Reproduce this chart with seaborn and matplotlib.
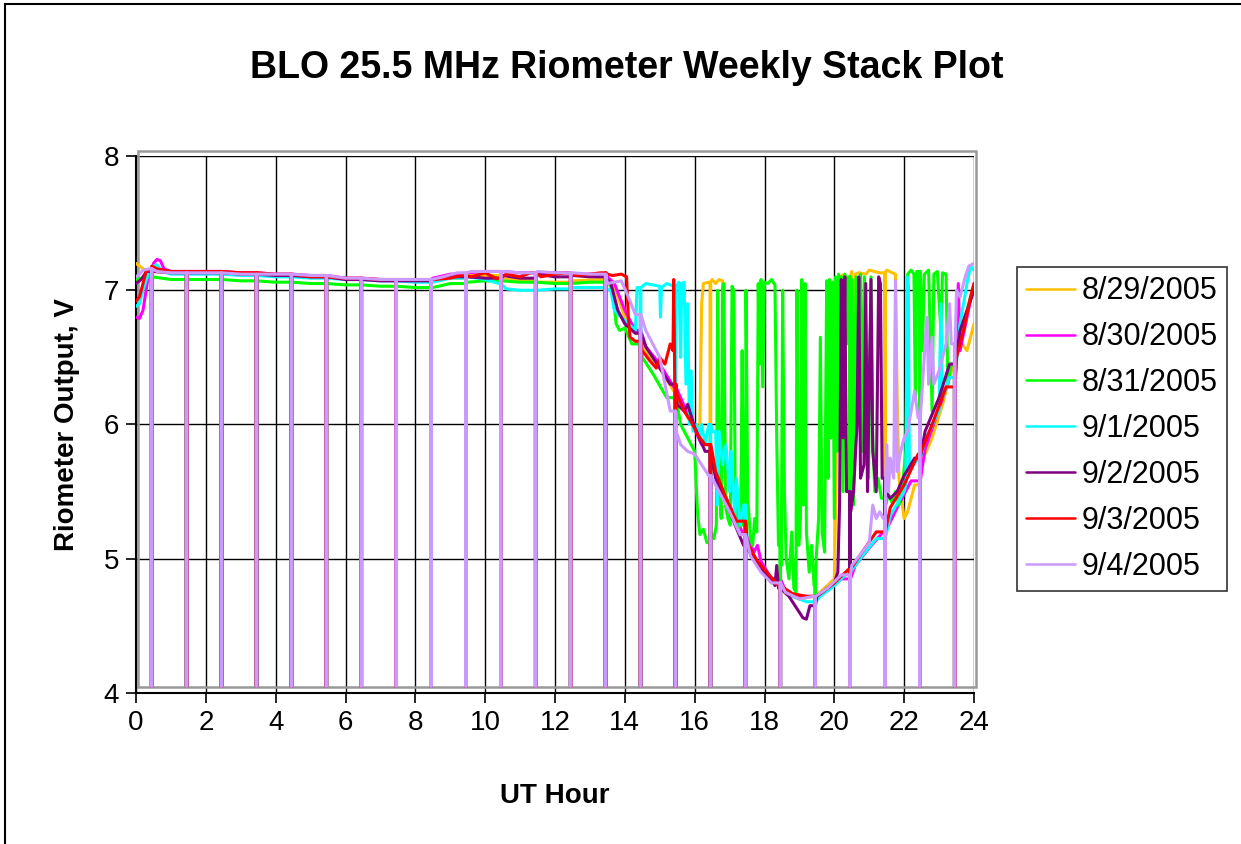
import numpy as np
import pandas as pd
import matplotlib.pyplot as plt
import matplotlib.patches as mpatches
import seaborn as sns

# ---- data (UT hour, volts) ----
dates = ["8/29/2005", "8/30/2005", "8/31/2005", "9/1/2005", "9/2/2005", "9/3/2005", "9/4/2005"]
colors = ["#FFC000", "#FF00FF", "#00FF00", "#00FFFF", "#800080", "#FF0000", "#CC99FF"]

# hourly calibration dropouts, common to every day
dropout_hours = [0.44, 1.44, 2.44, 3.44, 4.44, 5.44, 6.44, 7.44, 8.44, 9.44, 10.44, 11.44,
                 12.44, 13.44, 14.44, 15.44, 16.44, 17.44, 18.44, 19.44, 20.44, 21.44, 22.44, 23.44]
dropout_level = 4.05

t_0829 = [0.0, 0.1, 0.25, 0.5, 1.0, 2.0, 4.0, 6.0, 8.0, 8.8, 9.5, 10.5, 11.5, 12.5, 13.3, 13.6,
          13.8, 14.0, 14.3, 14.6, 15.0, 15.4, 15.8, 16.1, 16.15, 16.2, 16.25, 16.4, 16.5, 16.6, 16.7, 16.8,
          16.85, 16.9, 17.2, 17.5, 17.8, 18.2, 18.6, 19.0, 19.4, 19.8, 20.0, 20.05, 20.1, 20.15, 20.3, 20.4,
          20.45, 20.5, 20.55, 20.6, 20.7, 20.9, 21.0, 21.3, 21.5, 21.75, 21.8, 21.85, 22.0, 22.1, 22.3, 22.5,
          22.8, 23.1, 23.4, 23.6, 23.8, 24.0]
v_0829 = [7.20, 7.18, 7.15, 7.14, 7.13, 7.13, 7.11, 7.08, 7.07, 7.09, 7.11, 7.08, 7.06, 7.07, 7.08, 7.08,
          6.95, 6.80, 6.68, 6.55, 6.42, 6.25, 6.05, 5.95, 6.00, 6.90, 7.05, 7.06, 7.08, 7.05, 7.08, 7.07,
          6.00, 5.45, 5.25, 5.10, 4.95, 4.82, 4.74, 4.70, 4.72, 4.80, 4.85, 5.60, 6.90, 7.10, 7.12, 6.60,
          7.10, 7.14, 5.65, 7.12, 7.13, 7.12, 7.15, 7.13, 7.15, 7.12, 6.20, 5.60, 5.30, 5.35, 5.55, 5.72,
          5.90, 6.15, 6.45, 6.62, 6.55, 6.75]

t_0830 = [0.0, 0.1, 0.2, 0.35, 0.5, 0.6, 0.7, 0.8, 1.0, 2.0, 3.0, 4.0, 5.0, 6.0, 7.0, 8.0, 8.5, 9.0,
          9.5, 10.0, 11.0, 12.0, 12.5, 13.0, 13.5, 13.7, 14.0, 14.3, 14.6, 15.0, 15.4, 15.8, 16.2, 16.6,
          17.0, 17.4, 17.7, 17.8, 17.9, 18.2, 18.6, 19.0, 19.4, 19.8, 20.2, 20.6, 21.0, 21.4, 21.8, 22.2,
          22.6, 23.0, 23.3, 23.5, 23.55, 23.6, 23.8, 24.0]
v_0830 = [6.80, 6.79, 6.85, 7.10, 7.20, 7.23, 7.22, 7.16, 7.14, 7.14, 7.13, 7.12, 7.11, 7.09, 7.08, 7.08, 7.09, 7.12,
          7.13, 7.14, 7.13, 7.13, 7.12, 7.12, 7.10, 7.05, 6.85, 6.70, 6.58, 6.45, 6.28, 6.08, 5.85, 5.62,
          5.40, 5.18, 5.05, 5.10, 4.98, 4.85, 4.76, 4.72, 4.72, 4.76, 4.85, 4.95, 5.08, 5.20, 5.38, 5.58,
          5.82, 6.12, 6.35, 6.50, 7.05, 6.55, 6.80, 7.05]

t_0831 = [0.0, 0.3, 1.0, 2.0, 3.0, 4.0, 5.0, 6.0, 7.0, 8.0, 8.5, 9.0, 9.5, 10.0, 11.0, 12.0, 13.0, 13.5, 13.65,
          13.75, 13.85, 14.0, 14.2, 14.5, 14.8, 15.2, 15.6, 15.9, 16.0, 16.08, 16.15, 16.25, 16.35, 16.45, 16.55,
          16.62, 16.66, 16.7, 16.76, 16.8, 16.84, 16.88, 16.95, 17.02, 17.07, 17.12, 17.16, 17.25, 17.32, 17.36,
          17.4, 17.47, 17.52, 17.6, 17.66, 17.72, 17.78, 17.82, 17.86, 17.9, 17.95, 18.0, 18.1, 18.2, 18.3,
          18.35, 18.4, 18.48, 18.52, 18.57, 18.62, 18.7, 18.78, 18.84, 18.9, 18.93, 18.98, 19.03, 19.07, 19.11,
          19.16, 19.2, 19.28, 19.35, 19.42, 19.48, 19.55, 19.6, 19.65, 19.72, 19.78, 19.82, 19.86, 19.9, 19.95,
          20.0, 20.04, 20.08, 20.12, 20.16, 20.2, 20.25, 20.3, 20.35, 20.4, 20.47, 20.5, 20.55, 20.62, 20.68,
          20.75, 20.8, 20.86, 20.92, 20.98, 21.05, 21.1, 21.16, 21.25, 21.35, 21.47, 21.55, 21.65, 21.75, 21.85,
          21.95, 22.05, 22.1, 22.2, 22.28, 22.32, 22.36, 22.47, 22.52, 22.58, 22.7, 22.8, 22.85, 22.95, 23.05,
          23.1, 23.2, 23.25, 23.35, 23.5, 23.7, 23.9, 24.0]
v_0831 = [7.08, 7.10, 7.08, 7.08, 7.07, 7.06, 7.05, 7.04, 7.03, 7.02, 7.02, 7.05, 7.06, 7.07, 7.06, 7.05, 7.06, 7.07, 7.00,
          6.75, 6.70, 6.72, 6.60, 6.50, 6.38, 6.20, 6.00, 5.85, 5.80, 5.35, 5.18, 5.22, 5.12, 5.20, 5.15,
          5.25, 7.00, 5.60, 5.30, 7.02, 7.05, 5.40, 5.30, 5.25, 7.03, 7.00, 5.50, 5.20, 5.35, 6.55,
          5.25, 7.00, 5.45, 5.15, 5.10, 5.30, 5.20, 7.05, 6.45, 7.08, 6.28, 7.06, 7.05, 7.08, 7.04,
          5.90, 5.10, 4.95, 7.00, 5.50, 5.00, 4.85, 5.20, 4.78, 4.75, 7.00, 5.10, 5.30, 7.08, 5.40,
          7.05, 5.20, 4.90, 5.10, 4.80, 5.00, 5.30, 6.65, 5.20, 5.05, 7.07, 5.60, 7.08, 5.90, 7.06,
          5.30, 7.10, 5.80, 7.12, 6.20, 7.10, 5.50, 7.12, 6.60, 7.10, 6.00, 7.08, 5.40, 7.10, 6.30,
          7.12, 5.80, 7.10, 6.50, 5.60, 7.10, 5.90, 5.50, 5.60, 5.45, 5.40, 5.48, 5.42, 5.50, 5.40,
          5.55, 5.80, 7.12, 7.15, 7.12, 6.20, 7.14, 7.13, 6.55, 7.12, 7.15, 6.10, 7.12, 7.14, 6.70,
          7.13, 7.12, 6.30, 6.45, 6.55, 6.75, 6.95, 7.00]

t_0901 = [0.0, 0.1, 0.2, 0.35, 0.5, 0.6, 0.75, 1.0, 2.0, 3.0, 4.0, 5.0, 6.0, 7.0, 8.0, 8.5, 9.0, 9.5, 10.0,
          10.4, 10.6, 11.0, 11.5, 12.0, 12.5, 13.0, 13.5, 13.6, 13.7, 13.9, 14.1, 14.3, 14.35, 14.6, 14.8,
          15.0, 15.02, 15.05, 15.2, 15.4, 15.55, 15.6, 15.63, 15.7, 15.75, 15.8, 15.85, 15.9, 15.95, 16.05,
          16.15, 16.2, 16.3, 16.4, 16.5, 16.6, 16.65, 16.7, 16.8, 16.9, 17.0, 17.05, 17.15, 17.2, 17.3, 17.4,
          17.5, 17.7, 18.0, 18.4, 18.8, 19.2, 19.6, 20.0, 20.4, 20.8, 21.2, 21.6, 22.0, 22.05, 22.08, 22.12,
          22.15, 22.4, 22.6, 22.9, 23.0, 23.05, 23.1, 23.3, 23.6, 23.8, 23.9, 24.0]
v_0901 = [6.88, 6.90, 7.00, 7.12, 7.18, 7.19, 7.14, 7.12, 7.12, 7.11, 7.10, 7.09, 7.08, 7.07, 7.06, 7.06, 7.09, 7.10, 7.08,
          7.05, 7.01, 7.00, 7.00, 7.01, 7.02, 7.02, 7.01, 7.00, 6.85, 6.80, 6.75, 6.70, 7.02, 7.05, 7.04,
          7.03, 6.80, 7.02, 7.05, 7.03, 7.06, 6.50, 7.05, 7.06, 6.30, 6.90, 6.00, 6.40, 5.95, 6.00,
          5.90, 6.00, 5.85, 6.00, 5.95, 5.95, 5.40, 5.95, 5.70, 5.85, 5.50, 5.80, 5.30, 5.60, 5.25, 5.40,
          5.12, 5.00, 4.90, 4.80, 4.72, 4.68, 4.72, 4.80, 4.90, 5.02, 5.15, 5.32, 5.50, 5.55, 7.10, 7.05,
          5.65, 5.75, 5.88, 6.05, 6.10, 6.90, 6.20, 6.35, 6.75, 7.05, 7.18, 7.15]

t_0902 = [0.0, 0.15, 0.3, 0.5, 1.0, 2.0, 3.0, 4.0, 5.0, 6.0, 7.0, 8.0, 8.5, 9.0, 9.5, 10.0, 10.5, 11.0, 11.5,
          12.0, 12.5, 13.0, 13.5, 13.6, 13.8, 14.0, 14.3, 14.6, 15.0, 15.3, 15.5, 15.7, 15.8, 16.0, 16.3, 16.6,
          17.0, 17.4, 17.8, 18.2, 18.3, 18.35, 18.4, 18.7, 19.0, 19.1, 19.2, 19.3, 19.5, 19.8, 20.0, 20.1,
          20.15, 20.2, 20.25, 20.3, 20.35, 20.47, 20.55, 20.65, 20.7, 20.75, 20.85, 20.9, 20.95, 21.05, 21.1,
          21.2, 21.27, 21.32, 21.37, 21.47, 21.6, 21.8, 22.0, 22.3, 22.6, 23.0, 23.3, 23.6, 23.8, 24.0]
v_0902 = [7.05, 7.08, 7.14, 7.14, 7.13, 7.13, 7.12, 7.11, 7.10, 7.08, 7.07, 7.07, 7.08, 7.10, 7.10, 7.09, 7.11, 7.09, 7.12,
          7.10, 7.11, 7.10, 7.08, 7.05, 6.85, 6.75, 6.68, 6.58, 6.42, 6.30, 6.15, 6.10, 6.15, 5.98, 5.80, 5.60,
          5.35, 5.10, 4.95, 4.85, 4.80, 4.95, 4.78, 4.72, 4.60, 4.56, 4.55, 4.65, 4.72, 4.78, 4.82, 4.90,
          5.40, 7.08, 5.90, 7.10, 5.50, 5.35, 5.50, 6.00, 7.10, 5.60, 5.70, 7.05, 5.50, 7.08, 5.80,
          5.50, 7.10, 7.05, 5.60, 5.50, 5.45, 5.50, 5.62, 5.75, 5.95, 6.20, 6.45, 6.70, 6.85, 7.00]

t_0903 = [0.0, 0.1, 0.2, 0.3, 0.45, 0.6, 1.0, 2.0, 3.0, 4.0, 5.0, 6.0, 7.0, 8.0, 8.5, 9.0, 9.3, 9.6, 10.0,
          10.3, 10.6, 11.0, 11.3, 11.6, 12.0, 12.3, 12.6, 13.0, 13.3, 13.5, 13.65, 13.9, 14.05, 14.1, 14.15,
          14.3, 14.5, 14.7, 14.9, 15.0, 15.15, 15.3, 15.38, 15.4, 15.43, 15.5, 15.7, 15.9, 16.1, 16.3, 16.6,
          16.9, 17.2, 17.5, 17.8, 18.0, 18.4, 18.8, 19.2, 19.6, 20.0, 20.4, 20.8, 21.2, 21.6, 22.0, 22.4,
          22.8, 23.2, 23.5, 23.7, 23.9, 24.0]
v_0903 = [6.92, 6.95, 7.05, 7.15, 7.18, 7.16, 7.14, 7.14, 7.13, 7.12, 7.10, 7.09, 7.08, 7.08, 7.08, 7.09, 7.11, 7.10, 7.13,
          7.09, 7.12, 7.10, 7.13, 7.10, 7.12, 7.13, 7.11, 7.12, 7.13, 7.12, 7.11, 7.12, 7.10, 6.80, 6.65,
          6.62, 6.55, 6.48, 6.42, 6.50, 6.45, 6.60, 6.55, 7.08, 6.30, 6.22, 6.10, 6.02, 5.92, 5.85, 5.65,
          5.45, 5.28, 5.12, 4.98, 4.92, 4.80, 4.74, 4.72, 4.74, 4.82, 4.92, 5.05, 5.20, 5.38, 5.55, 5.78,
          6.00, 6.28, 6.50, 6.70, 6.95, 7.05]

t_0904 = [0.0, 0.1, 0.2, 0.4, 0.6, 1.0, 2.0, 3.0, 4.0, 5.0, 6.0, 7.0, 8.0, 8.4, 8.8, 9.2, 9.6, 10.0, 10.5,
          11.0, 11.5, 12.0, 12.5, 13.0, 13.4, 13.5, 13.9, 14.1, 14.3, 14.6, 14.8, 15.0, 15.15, 15.3, 15.47,
          15.6, 15.8, 16.0, 16.2, 16.4, 16.7, 17.0, 17.3, 17.6, 17.9, 18.2, 18.6, 19.0, 19.4, 19.8, 20.2,
          20.5, 20.8, 21.0, 21.1, 21.2, 21.3, 21.4, 21.47, 21.5, 21.55, 21.6, 21.7, 21.75, 21.8, 21.9, 22.0,
          22.1, 22.2, 22.3, 22.4, 22.5, 22.65, 22.7, 22.8, 22.85, 23.0, 23.1, 23.2, 23.3, 23.35, 23.5, 23.6,
          23.75, 23.85, 24.0]
v_0904 = [7.10, 7.12, 7.15, 7.16, 7.14, 7.13, 7.13, 7.12, 7.12, 7.11, 7.09, 7.08, 7.08, 7.08, 7.10, 7.13, 7.14, 7.14, 7.14,
          7.13, 7.14, 7.13, 7.13, 7.12, 7.12, 7.05, 7.07, 6.95, 6.82, 6.70, 6.60, 6.50, 6.30, 6.10, 5.95,
          5.85, 5.80, 5.78, 5.70, 5.62, 5.50, 5.35, 5.18, 5.02, 4.90, 4.82, 4.75, 4.70, 4.72, 4.78, 4.88,
          4.95, 5.05, 5.12, 5.40, 5.30, 5.35, 5.30, 5.60, 5.85, 5.50, 5.75, 5.60, 7.07, 5.65, 5.80, 5.90,
          5.95, 6.10, 6.25, 6.05, 6.20, 6.80, 6.30, 6.65, 6.30, 6.40, 6.50, 6.60, 6.90, 6.60, 7.00, 6.95,
          7.10, 7.18, 7.20]

series_t = [t_0829, t_0830, t_0831, t_0901, t_0902, t_0903, t_0904]
series_v = [v_0829, v_0830, v_0831, v_0901, v_0902, v_0903, v_0904]

DROP_WIDTH = 0.02


def with_dropouts(ts, vs):
    # splice the hourly dropouts into a day's trace (held at the last reading)
    rows = []
    drops = list(dropout_hours)
    for t, v in zip(ts, vs):
        while drops and drops[0] <= t:
            h = drops.pop(0)
            hold = rows[-1][1] if rows else v
            rows += [(h, hold), (h, dropout_level), (h + DROP_WIDTH, dropout_level), (h + DROP_WIDTH, hold)]
        rows.append((t, v))
    return rows


frames = []
for date, ts, vs in zip(dates, series_t, series_v):
    pts = with_dropouts(ts, vs)
    frames.append(pd.DataFrame({"UT Hour": [p[0] for p in pts],
                                "Volts": [p[1] for p in pts],
                                "Date": date}))
df = pd.concat(frames, ignore_index=True)

sns.set_theme(style="white")
plt.rcParams["font.family"] = ["Liberation Sans", "DejaVu Sans"]
plt.rcParams["text.color"] = "black"
plt.rcParams["axes.labelcolor"] = "black"

fig = plt.figure(figsize=(12.41, 8.44), dpi=100)
ax = fig.add_axes([136 / 1241, 1 - 693 / 844, 838 / 1241, 537 / 844])

sns.lineplot(data=df, x="UT Hour", y="Volts", hue="Date", hue_order=dates,
             palette=dict(zip(dates, colors)), estimator=None, sort=False,
             linewidth=2.2, ax=ax, zorder=3)

ax.set_xlim(0, 24)
ax.set_ylim(4, 8)
ax.set_xticks(range(0, 25, 2))
ax.set_yticks(range(4, 9))
ax.grid(True, color="black", linewidth=1.0)
ax.set_axisbelow(True)
for s in ["top", "right"]:
    ax.spines[s].set_visible(False)
for s in ["left", "bottom"]:
    ax.spines[s].set_color("black")
    ax.spines[s].set_linewidth(1.5)
ax.tick_params(axis="both", direction="out", length=7, width=1.2, color="black",
               labelsize=20, labelcolor="black", pad=5, left=True, bottom=True)

# Excel-style grey plot-area frame
ax.add_patch(mpatches.Rectangle((0.0027, 0.0112), 0.9997, 0.9987, transform=ax.transAxes,
                                fill=False, edgecolor="#999999", linewidth=1.8, zorder=2, clip_on=False))

ax.set_xlabel("UT Hour", fontsize=20, fontweight="bold", labelpad=34)
ax.set_ylabel("Riometer Output, V", fontsize=20, fontweight="bold", labelpad=17)
fig.suptitle("BLO 25.5 MHz Riometer Weekly Stack Plot", x=627 / 1241, y=1 - 68 / 844,
             va="center", fontsize=27, fontweight="bold")

handles, labels = ax.get_legend_handles_labels()
ax.get_legend().remove()
leg = fig.legend(handles, labels, loc="center left", bbox_to_anchor=(1017 / 1241, 1 - 429 / 844),
                 bbox_transform=fig.transFigure, fontsize=22, frameon=True, fancybox=False,
                 edgecolor="black", handlelength=1.6, handletextpad=0.22, labelspacing=0.52,
                 borderpad=0.3, borderaxespad=0)
leg.get_frame().set_linewidth(1.2)
for h in leg.get_lines():
    h.set_linewidth(1.8)

# outer chart border (top and left edges show in the crop)
fig.patches.append(mpatches.Rectangle((5 / 1241, -0.1), 1.2, 1.1 - 4 / 844, transform=fig.transFigure,
                                      fill=False, edgecolor="black", linewidth=1.5))

fig.savefig("out.png", dpi=100)
